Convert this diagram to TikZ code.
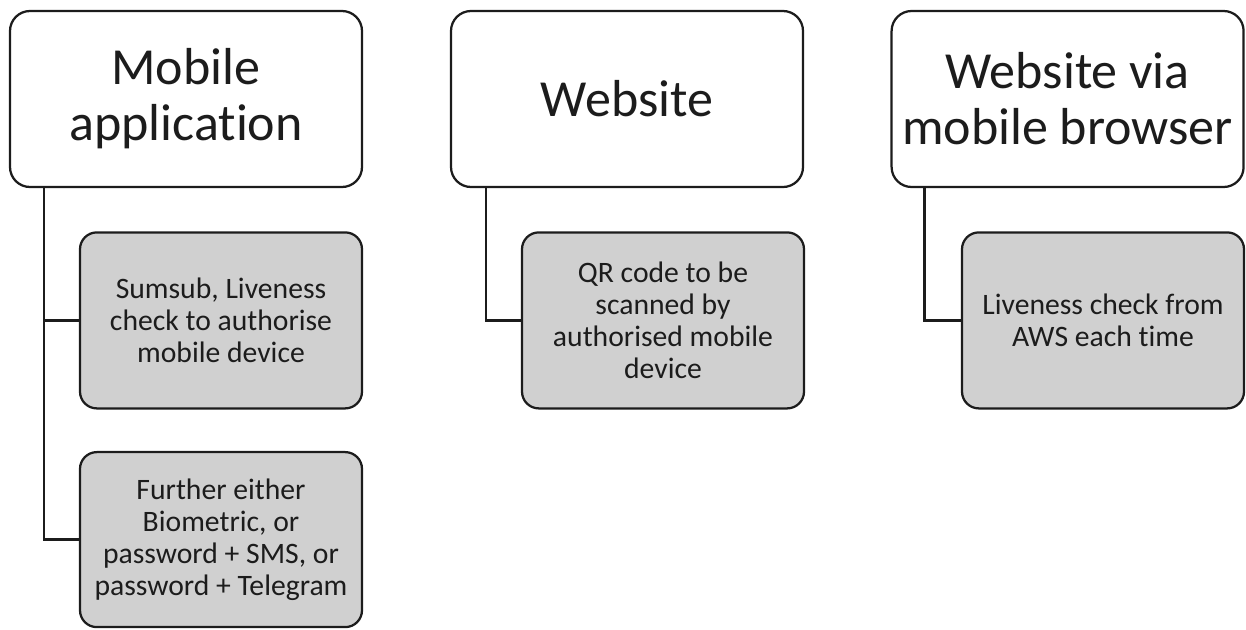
\documentclass[tikz,border=0pt]{standalone}
\usepackage{fontspec}
\setmainfont{Carlito}[Ligatures=NoCommon]
\usepackage{tikz}
\usetikzlibrary{positioning,calc}
\definecolor{boxgray}{HTML}{D0D0D0}
\definecolor{inkgray}{HTML}{1C1C1C}

\begin{document}
\begin{tikzpicture}[
  top/.style={draw=inkgray,rounded corners=0.5cm,line width=1.6pt,fill=white,
    align=center,minimum width=8.8cm,minimum height=4.4cm,inner sep=0pt,
    text=inkgray,font=\fontsize{37}{40}\selectfont},
  sub/.style={draw=inkgray,rounded corners=0.42cm,line width=1.6pt,fill=boxgray,
    align=center,minimum width=7.05cm,minimum height=4.4cm,inner sep=0pt,
    text=inkgray,font=\fontsize{21.1}{22.8}\selectfont},
  link/.style={draw=inkgray,line width=1.6pt}
]
  \useasboundingbox (0,0) rectangle (31.15,-15.725);

  \node[top] (app) at (4.65,-2.475) {Mobile\\application};
  \node[top] (web) at (15.675,-2.475) {Website};
  \node[top] (mob) at (26.69,-2.475) {Website via\\mobile browser};

  \node[sub] (appa) at (5.525,-8.01)
    {Sumsub, Liveness\\check to authorise\\mobile device};
  \node[sub,minimum height=4.375cm] (appb) at (5.525,-13.49)
    {Further either\\Biometric, or\\password + SMS, or\\password + Telegram};
  \node[sub] (weba) at (16.575,-8.01)
    {QR code to be\\scanned by\\authorised mobile\\device};
  \node[sub] (moba) at (27.575,-8.01)
    {Liveness check from\\AWS each time};

  \draw[link] ($(app.south west)+(0.875,0)$) |- (appa.west);
  \draw[link] ($(app.south west)+(0.875,0)$) |- (appb.west);
  \draw[link] ($(web.south west)+(0.9,0)$) |- (weba.west);
  \draw[link] ($(mob.south west)+(0.85,0)$) |- (moba.west);
\end{tikzpicture}
\end{document}
